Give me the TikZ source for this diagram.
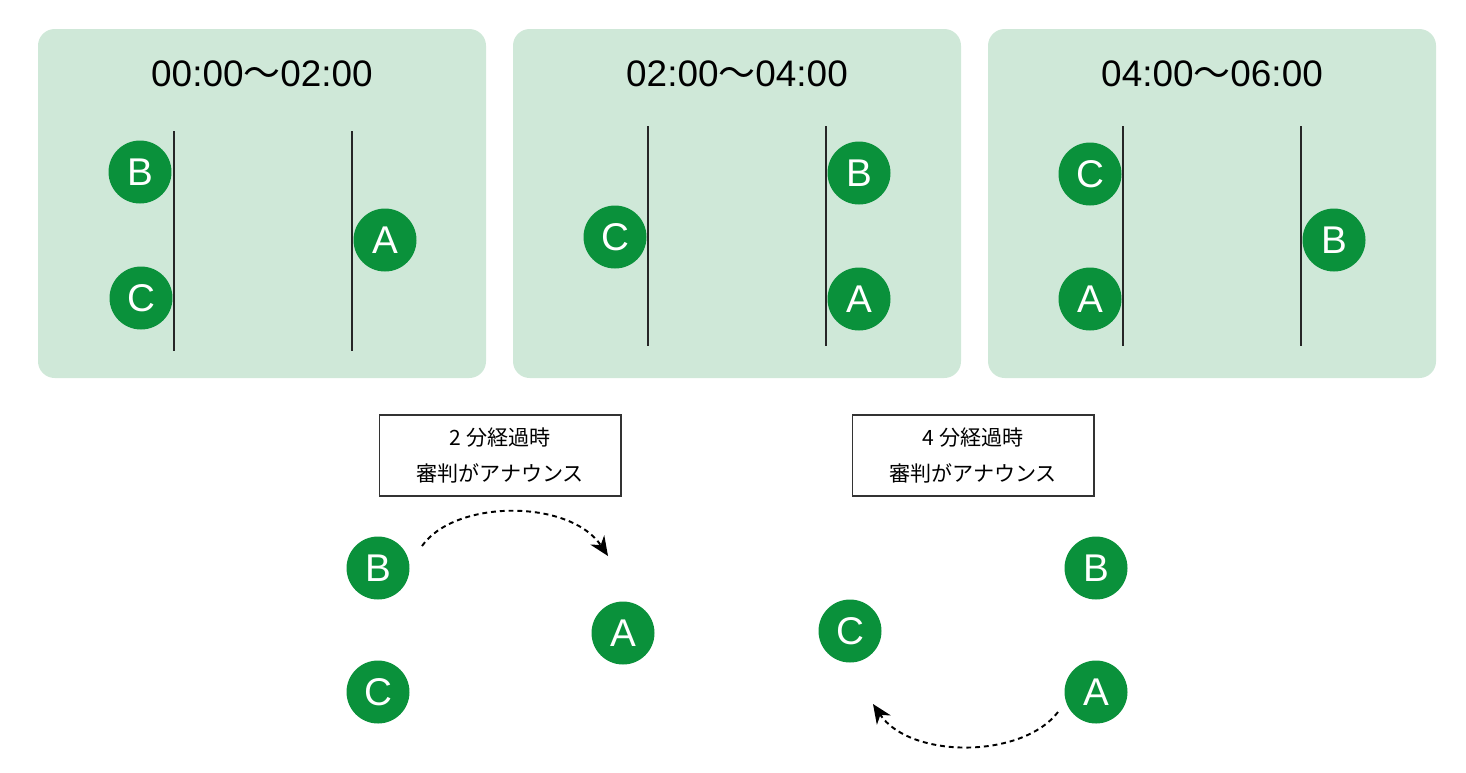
\documentclass[tikz,border=0pt]{standalone}
\usepackage{fontspec}
\setmainfont{Liberation Sans}
\newfontfamily\cjk{Noto Sans CJK JP}
\usetikzlibrary{arrows.meta}
\definecolor{panelgreen}{HTML}{CFE8D8}
\definecolor{playergreen}{HTML}{0A913B}
\begin{document}
\begin{tikzpicture}[x=0.02cm,y=-0.02cm,
    panel/.style={fill=panelgreen,rounded corners=9.5pt},
    slot/.style={line width=0.6pt,draw=black!85},
    player/.style={circle,fill=playergreen,text=white,minimum size=1.26cm,inner sep=0pt,font=\fontsize{22}{22}\selectfont},
    slottitle/.style={font=\fontsize{21}{22}\selectfont},
    note/.style={draw=black!80,line width=0.6pt,minimum width=4.84cm,minimum height=1.62cm,align=center,font=\cjk\fontsize{12}{21}\selectfont},
    swap/.style={dashed,dash pattern=on 2.8pt off 2.2pt,line width=1.1pt,-{Stealth[length=11pt,width=9.5pt,inset=3.5pt]}}]
    \useasboundingbox (0,0) rectangle (1466,772);
    %% Panels
    \fill[panel] (38,29) rectangle (486,378);
    \fill[panel] (513,29) rectangle (961,378);
    \fill[panel] (988,29) rectangle (1436,378);
    \node[slottitle] (t1) at (262,74) {00:00{\cjk 〜}02:00};
    \node[slottitle] (t2) at (737,74) {02:00{\cjk 〜}04:00};
    \node[slottitle] (t3) at (1212,74) {04:00{\cjk 〜}06:00};
    %% Lines
    \draw[slot] (174,131) -- (174,351);
    \draw[slot] (352,131) -- (352,351);
    \draw[slot] (648,126) -- (648,346);
    \draw[slot] (826,126) -- (826,346);
    \draw[slot] (1123,126) -- (1123,346);
    \draw[slot] (1301,126) -- (1301,346);
    %% Players
    \node[player] (p1B) at (140,172) {B};
    \node[player] (p1C) at (141,298) {C};
    \node[player] (p1A) at (385,240) {A};
    \node[player] (p2C) at (615,237) {C};
    \node[player] (p2B) at (859,173) {B};
    \node[player] (p2A) at (859,299) {A};
    \node[player] (p3C) at (1090,174) {C};
    \node[player] (p3A) at (1090,299) {A};
    \node[player] (p3B) at (1334,240) {B};
    %% Announcements
    \node[note] (note1) at (500,455.5) {2 分経過時\\審判がアナウンス};
    \node[note] (note2) at (973,455.5) {4 分経過時\\審判がアナウンス};
    \node[player] (q1B) at (378,568) {B};
    \node[player] (q1A) at (623,633) {A};
    \node[player] (q1C) at (378,692) {C};
    \node[player] (q2B) at (1096,568) {B};
    \node[player] (q2C) at (850,631) {C};
    \node[player] (q2A) at (1096,692) {A};
    %% Moves
    \coordinate (m1s) at (422,546);
    \coordinate (m1e) at (608,556);
    \coordinate (m2s) at (1058,712);
    \coordinate (m2e) at (873,704);
    \draw[swap] (m1s) .. controls (455,499) and (570,499) .. (m1e);
    \draw[swap] (m2s) .. controls (1022,759) and (910,759) .. (m2e);
\end{tikzpicture}
\end{document}
